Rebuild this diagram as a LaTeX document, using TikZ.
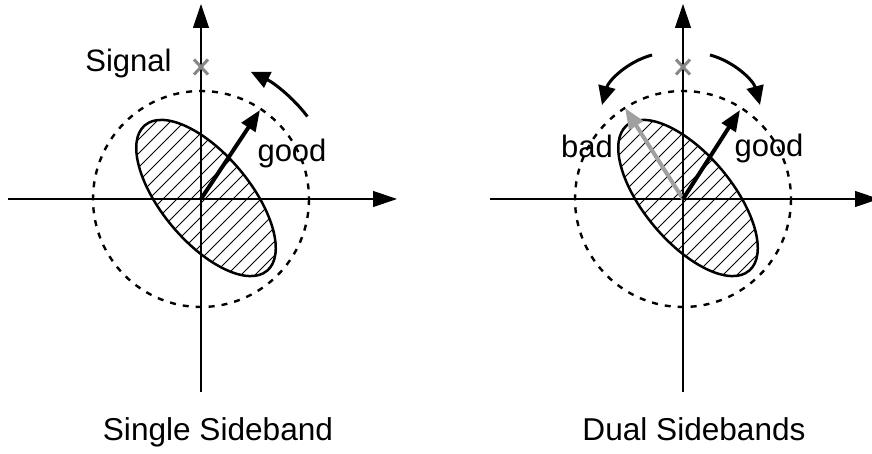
\documentclass[tikz,border=0pt]{standalone}
\usepackage{fontspec}
\setmainfont{Liberation Sans}
\usetikzlibrary{arrows.meta,calc}
\definecolor{crossgray}{RGB}{135,135,135}
\definecolor{badgray}{RGB}{160,160,160}
\begin{document}
\begin{tikzpicture}[x=1pt,y=-1pt,
  axis/.style={line width=1.2pt,-{Triangle[length=24pt,width=16pt]}},
  circ/.style={line width=2.4pt,dash pattern=on 6pt off 7pt},
  ell/.style={line width=2.5pt},
  hatch/.style={line width=0.9pt},
  vec/.style={line width=4pt,-{Triangle[length=21pt,width=16pt]}},
  rot/.style={line width=3pt,-{Triangle[length=19pt,width=17pt]}},
  crossline/.style={line width=3pt,crossgray},
  lbl/.style={font=\fontsize{31}{36}\selectfont,inner sep=0pt,anchor=base},
  captionlbl/.style={font=\fontsize{31.6}{36}\selectfont,inner sep=0pt,anchor=base}]
\useasboundingbox (0,0) rectangle (872,454);
\begin{scope}
\clip (0,0) rectangle (872,454);
% ---------- left panel ----------
\coordinate (oL) at (201,199);
\coordinate (xLs) at (8,199);
\coordinate (xLe) at (397,199);
\coordinate (yLs) at (201,392);
\coordinate (yLe) at (201,4);
\begin{scope}
  \clip (206,198) ellipse[x radius=95, y radius=44, rotate=-50];
  \foreach \k in {-266,-252,...,266}
    \draw[hatch] (206+\k-170,198+170) -- (206+\k+170,198-170);
\end{scope}
\draw[ell] (206,198) ellipse[x radius=95, y radius=44, rotate=-50];
\draw[circ] (oL) circle[radius=108];
\draw[axis] (xLs) -- (xLe);
\draw[axis] (yLs) -- (yLe);
\coordinate (cL) at (201,67);
\draw[crossline] ($(cL)+(-7,-7.5)$) -- ($(cL)+(7,7.5)$);
\draw[crossline] ($(cL)+(-7,7.5)$) -- ($(cL)+(7,-7.5)$);
\coordinate (gL) at (260,110);
\draw[vec] (oL) -- (gL);
\coordinate (rLs) at (307.4,116.5);
\coordinate (rLe) at (250.7,71.7);
\draw[rot] (rLs) .. controls (292.8,97.2) and (273.6,82.7) .. (rLe);
\node[lbl] (signal) at (128.5,72) {Signal};
\node[lbl] (goodL) at (292,162) {good};
\node[captionlbl] (ssb) at (218,440) {Single Sideband};
% ---------- right panel ----------
\coordinate (oR) at (683,199);
\coordinate (xRs) at (490,199);
\coordinate (xRe) at (879,199);
\coordinate (yRs) at (683,392);
\coordinate (yRe) at (683,4);
\begin{scope}
  \clip (688,198) ellipse[x radius=95, y radius=44, rotate=-50];
  \foreach \k in {-266,-252,...,266}
    \draw[hatch] (688+\k-170,198+170) -- (688+\k+170,198-170);
\end{scope}
\draw[ell] (688,198) ellipse[x radius=95, y radius=44, rotate=-50];
\draw[circ] (oR) circle[radius=108];
\draw[axis] (xRs) -- (xRe);
\draw[axis] (yRs) -- (yRe);
\coordinate (cR) at (683,67);
\draw[crossline] ($(cR)+(-7,-7.5)$) -- ($(cR)+(7,7.5)$);
\draw[crossline] ($(cR)+(-7,7.5)$) -- ($(cR)+(7,-7.5)$);
\coordinate (gR) at (740,110);
\coordinate (bR) at (625,108);
\draw[vec,badgray] (oR) -- (bR);
\draw[vec] (oR) -- (gR);
\coordinate (r1s) at (652,55);
\coordinate (r1e) at (602,105);
\coordinate (r2s) at (710,55);
\coordinate (r2e) at (760,105);
\draw[rot] (r1s) .. controls (627.5,61.6) and (608.6,80.5) .. (r1e);
\draw[rot] (r2s) .. controls (734.5,61.6) and (753.4,80.5) .. (r2e);
\node[lbl] (bad) at (587,158) {bad};
\node[lbl] (goodR) at (769,157) {good};
\node[captionlbl] (dsb) at (694,440) {Dual Sidebands};
\end{scope}
\end{tikzpicture}
\end{document}
